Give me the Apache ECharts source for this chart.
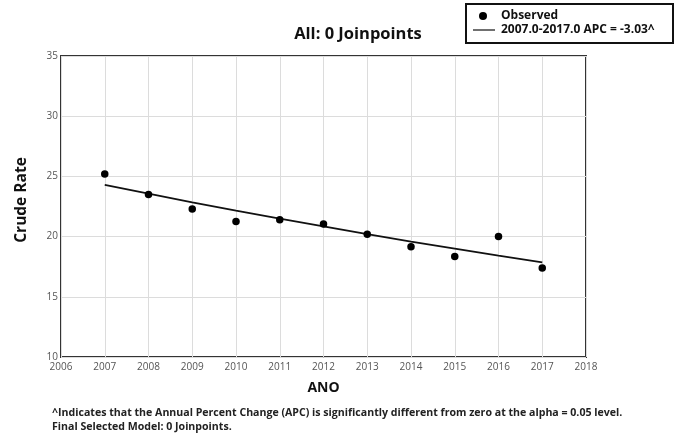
<!DOCTYPE html>
<html>
<head>
<meta charset="utf-8">
<script src="https://cdn.jsdelivr.net/npm/echarts@6/dist/echarts.min.js"></script>
<style>
  html, body { margin: 0; padding: 0; background: #fff; }
  #chart { width: 682px; height: 438px; }
</style>
</head>
<body>
<div id="chart"></div>
<script>
// Observed crude rates per year
const years = [2007, 2008, 2009, 2010, 2011, 2012, 2013, 2014, 2015, 2016, 2017];
const observed = [25.2, 23.5, 22.3, 21.25, 21.4, 21.05, 20.2, 19.15, 18.35, 20.0, 17.4];
// Fitted joinpoint model (APC = -3.03%)
const modeled = [24.3, 23.56, 22.85, 22.16, 21.49, 20.84, 20.2, 19.59, 19.0, 18.42, 17.86];

const titleText = 'All: 0 Joinpoints';
const observedName = 'Observed';
const trendName = '2007.0-2017.0 APC = -3.03^';
const yAxisName = 'Crude Rate';
const xAxisName = 'ANO';
const footnote1 = '^Indicates that the Annual Percent Change (APC) is significantly different from zero at the alpha = 0.05 level.';
const footnote2 = 'Final Selected Model: 0 Joinpoints.';

const chart = echarts.init(document.getElementById('chart'));
const font = '"Open Sans", "DejaVu Sans", sans-serif';

chart.setOption({
  backgroundColor: '#fff',
  animation: false,
  title: {
    text: titleText,
    left: 353, top: 21, textAlign: 'center',
    textStyle: { fontFamily: font, fontSize: 16.5, fontWeight: 'bold', color: '#111' }
  },
  grid: {
    left: 61, right: 96, top: 56, bottom: 81,
    show: true, borderColor: '#333', borderWidth: 2
  },
  xAxis: {
    type: 'value', min: 2006, max: 2018, interval: 1,
    name: xAxisName, nameLocation: 'middle', nameGap: 24,
    nameTextStyle: { fontFamily: font, fontSize: 14, fontWeight: 'bold', color: '#111' },
    axisLine: { show: false }, axisTick: { show: false },
    axisLabel: { fontFamily: font, fontSize: 10, color: '#555', margin: 5, formatter: v => String(v) },
    splitLine: { show: true, lineStyle: { color: '#dcdcdc', width: 1 } }
  },
  yAxis: {
    type: 'value', min: 10, max: 35, interval: 5,
    axisLine: { show: false }, axisTick: { show: false },
    axisLabel: { fontFamily: font, fontSize: 10, color: '#555', margin: 3 },
    splitLine: { show: true, lineStyle: { color: '#dcdcdc', width: 1 } }
  },
  series: [
    {
      name: trendName, type: 'line',
      data: years.map((y, i) => [y, modeled[i]]),
      showSymbol: false, lineStyle: { color: '#111', width: 1.8 }, z: 2
    },
    {
      name: observedName, type: 'scatter',
      data: years.map((y, i) => [y, observed[i]]),
      symbolSize: 7.5, itemStyle: { color: '#000', opacity: 1 }, z: 3
    }
  ],
  graphic: [
    // y-axis title
    { type: 'text', x: 22, y: 200, rotation: Math.PI / 2,
      style: { text: yAxisName, fontFamily: font, fontSize: 15.5, fontWeight: 'bold', fill: '#111',
               align: 'center', verticalAlign: 'middle' } },
    // legend box
    { type: 'rect', shape: { x: 466, y: 4, width: 207, height: 39 },
      style: { fill: '#fff', stroke: '#111', lineWidth: 2 } },
    { type: 'circle', shape: { cx: 483, cy: 16, r: 4 }, style: { fill: '#000' } },
    { type: 'text', x: 501, y: 16,
      style: { text: observedName, fontFamily: font, fontSize: 12, fontWeight: 'bold', fill: '#111', verticalAlign: 'middle' } },
    { type: 'line', shape: { x1: 473, y1: 30, x2: 495, y2: 30 }, style: { stroke: '#111', lineWidth: 1.2 } },
    { type: 'text', x: 501, y: 30,
      style: { text: trendName, fontFamily: font, fontSize: 12, fontWeight: 'bold', fill: '#111', verticalAlign: 'middle' } },
    // footnotes
    { type: 'text', x: 52, y: 413,
      style: { text: footnote1, fontFamily: font, fontSize: 10.6, fontWeight: 'bold', fill: '#222', verticalAlign: 'middle' } },
    { type: 'text', x: 52, y: 427,
      style: { text: footnote2, fontFamily: font, fontSize: 10.6, fontWeight: 'bold', fill: '#222', verticalAlign: 'middle' } }
  ]
});
</script>
</body>
</html>
